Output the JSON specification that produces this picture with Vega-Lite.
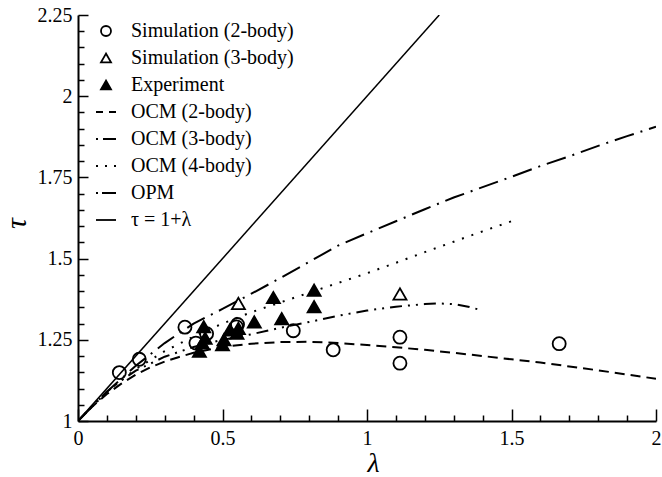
{
  "$schema": "https://vega.github.io/schema/vega-lite/v6.json",
  "width": 578,
  "height": 406,
  "autosize": {"type": "none"},
  "padding": {"left": 78, "top": 15, "right": 6, "bottom": 56},
  "background": "white",
  "config": {
    "view": {"stroke": null},
    "axis": {
      "domainColor": "black", "domainWidth": 2, "tickColor": "black", "tickWidth": 1.5,
      "labelFont": "Liberation Serif", "labelFontSize": 20, "labelColor": "black",
      "grid": false, "titleFont": "Liberation Serif", "titleFontStyle": "italic",
      "titleFontSize": 30, "titleFontWeight": "normal", "titleColor": "black",
      "labelOverlap": false, "labelFlush": false
    }
  },
  "datasets": {
    "lines": [
      {"series": "OCM (2-body)", "lam": 0, "tau": 1},
      {"series": "OCM (2-body)", "lam": 0.05, "tau": 1.045},
      {"series": "OCM (2-body)", "lam": 0.1, "tau": 1.083},
      {"series": "OCM (2-body)", "lam": 0.15, "tau": 1.115},
      {"series": "OCM (2-body)", "lam": 0.2, "tau": 1.143},
      {"series": "OCM (2-body)", "lam": 0.25, "tau": 1.165},
      {"series": "OCM (2-body)", "lam": 0.3, "tau": 1.183},
      {"series": "OCM (2-body)", "lam": 0.35, "tau": 1.197},
      {"series": "OCM (2-body)", "lam": 0.4, "tau": 1.21},
      {"series": "OCM (2-body)", "lam": 0.5, "tau": 1.228},
      {"series": "OCM (2-body)", "lam": 0.6, "tau": 1.238},
      {"series": "OCM (2-body)", "lam": 0.7, "tau": 1.243},
      {"series": "OCM (2-body)", "lam": 0.8, "tau": 1.244},
      {"series": "OCM (2-body)", "lam": 0.9, "tau": 1.24},
      {"series": "OCM (2-body)", "lam": 1.0, "tau": 1.234},
      {"series": "OCM (2-body)", "lam": 1.1, "tau": 1.227},
      {"series": "OCM (2-body)", "lam": 1.2, "tau": 1.219},
      {"series": "OCM (2-body)", "lam": 1.3, "tau": 1.21},
      {"series": "OCM (2-body)", "lam": 1.4, "tau": 1.2},
      {"series": "OCM (2-body)", "lam": 1.5, "tau": 1.19},
      {"series": "OCM (2-body)", "lam": 1.6, "tau": 1.18},
      {"series": "OCM (2-body)", "lam": 1.7, "tau": 1.168},
      {"series": "OCM (2-body)", "lam": 1.8, "tau": 1.156},
      {"series": "OCM (2-body)", "lam": 1.9, "tau": 1.143},
      {"series": "OCM (2-body)", "lam": 2.0, "tau": 1.13},
      {"series": "OCM (3-body)", "lam": 0, "tau": 1},
      {"series": "OCM (3-body)", "lam": 0.05, "tau": 1.048},
      {"series": "OCM (3-body)", "lam": 0.1, "tau": 1.09},
      {"series": "OCM (3-body)", "lam": 0.15, "tau": 1.125},
      {"series": "OCM (3-body)", "lam": 0.2, "tau": 1.155},
      {"series": "OCM (3-body)", "lam": 0.3, "tau": 1.198},
      {"series": "OCM (3-body)", "lam": 0.4, "tau": 1.228},
      {"series": "OCM (3-body)", "lam": 0.5, "tau": 1.25},
      {"series": "OCM (3-body)", "lam": 0.6, "tau": 1.267},
      {"series": "OCM (3-body)", "lam": 0.7, "tau": 1.287},
      {"series": "OCM (3-body)", "lam": 0.8, "tau": 1.305},
      {"series": "OCM (3-body)", "lam": 0.9, "tau": 1.324},
      {"series": "OCM (3-body)", "lam": 1.0, "tau": 1.34},
      {"series": "OCM (3-body)", "lam": 1.1, "tau": 1.352},
      {"series": "OCM (3-body)", "lam": 1.2, "tau": 1.36},
      {"series": "OCM (3-body)", "lam": 1.25, "tau": 1.362},
      {"series": "OCM (3-body)", "lam": 1.3, "tau": 1.36},
      {"series": "OCM (3-body)", "lam": 1.35, "tau": 1.352},
      {"series": "OCM (3-body)", "lam": 1.4, "tau": 1.34},
      {"series": "OCM (4-body)", "lam": 0, "tau": 1},
      {"series": "OCM (4-body)", "lam": 0.1, "tau": 1.09},
      {"series": "OCM (4-body)", "lam": 0.2, "tau": 1.16},
      {"series": "OCM (4-body)", "lam": 0.3, "tau": 1.215},
      {"series": "OCM (4-body)", "lam": 0.4, "tau": 1.26},
      {"series": "OCM (4-body)", "lam": 0.5, "tau": 1.3},
      {"series": "OCM (4-body)", "lam": 0.6, "tau": 1.335},
      {"series": "OCM (4-body)", "lam": 0.7, "tau": 1.365},
      {"series": "OCM (4-body)", "lam": 0.8, "tau": 1.395},
      {"series": "OCM (4-body)", "lam": 0.9, "tau": 1.425},
      {"series": "OCM (4-body)", "lam": 1.0, "tau": 1.455},
      {"series": "OCM (4-body)", "lam": 1.1, "tau": 1.487},
      {"series": "OCM (4-body)", "lam": 1.2, "tau": 1.52},
      {"series": "OCM (4-body)", "lam": 1.3, "tau": 1.552},
      {"series": "OCM (4-body)", "lam": 1.4, "tau": 1.584},
      {"series": "OCM (4-body)", "lam": 1.5, "tau": 1.615},
      {"series": "OPM", "lam": 0, "tau": 1},
      {"series": "OPM", "lam": 0.1, "tau": 1.09},
      {"series": "OPM", "lam": 0.2, "tau": 1.17},
      {"series": "OPM", "lam": 0.3, "tau": 1.24},
      {"series": "OPM", "lam": 0.4, "tau": 1.3},
      {"series": "OPM", "lam": 0.5, "tau": 1.345},
      {"series": "OPM", "lam": 0.6, "tau": 1.392},
      {"series": "OPM", "lam": 0.7, "tau": 1.44},
      {"series": "OPM", "lam": 0.8, "tau": 1.49},
      {"series": "OPM", "lam": 0.9, "tau": 1.54},
      {"series": "OPM", "lam": 1.0, "tau": 1.578},
      {"series": "OPM", "lam": 1.1, "tau": 1.615},
      {"series": "OPM", "lam": 1.2, "tau": 1.652},
      {"series": "OPM", "lam": 1.3, "tau": 1.688},
      {"series": "OPM", "lam": 1.4, "tau": 1.72},
      {"series": "OPM", "lam": 1.5, "tau": 1.752},
      {"series": "OPM", "lam": 1.6, "tau": 1.785},
      {"series": "OPM", "lam": 1.7, "tau": 1.815},
      {"series": "OPM", "lam": 1.8, "tau": 1.847},
      {"series": "OPM", "lam": 1.9, "tau": 1.877},
      {"series": "OPM", "lam": 2.0, "tau": 1.906},
      {"series": "τ = 1+λ", "lam": 0, "tau": 1},
      {"series": "τ = 1+λ", "lam": 1.25, "tau": 2.25}
    ],
    "points": [
      {"series": "Simulation (2-body)", "lam": 0.143, "tau": 1.149},
      {"series": "Simulation (2-body)", "lam": 0.212, "tau": 1.19},
      {"series": "Simulation (2-body)", "lam": 0.37, "tau": 1.289},
      {"series": "Simulation (2-body)", "lam": 0.408, "tau": 1.24},
      {"series": "Simulation (2-body)", "lam": 0.445, "tau": 1.269},
      {"series": "Simulation (2-body)", "lam": 0.548, "tau": 1.29},
      {"series": "Simulation (2-body)", "lam": 0.552, "tau": 1.297},
      {"series": "Simulation (2-body)", "lam": 0.745, "tau": 1.278},
      {"series": "Simulation (2-body)", "lam": 0.883, "tau": 1.219},
      {"series": "Simulation (2-body)", "lam": 1.114, "tau": 1.258},
      {"series": "Simulation (2-body)", "lam": 1.114, "tau": 1.178},
      {"series": "Simulation (2-body)", "lam": 1.665, "tau": 1.238},
      {"series": "Simulation (3-body)", "lam": 0.555, "tau": 1.362},
      {"series": "Simulation (3-body)", "lam": 1.114, "tau": 1.391},
      {"series": "Experiment", "lam": 0.42, "tau": 1.215},
      {"series": "Experiment", "lam": 0.43, "tau": 1.24},
      {"series": "Experiment", "lam": 0.44, "tau": 1.255},
      {"series": "Experiment", "lam": 0.435, "tau": 1.29},
      {"series": "Experiment", "lam": 0.5, "tau": 1.235},
      {"series": "Experiment", "lam": 0.505, "tau": 1.25},
      {"series": "Experiment", "lam": 0.525, "tau": 1.28},
      {"series": "Experiment", "lam": 0.55, "tau": 1.27},
      {"series": "Experiment", "lam": 0.555, "tau": 1.285},
      {"series": "Experiment", "lam": 0.61, "tau": 1.305},
      {"series": "Experiment", "lam": 0.676, "tau": 1.38},
      {"series": "Experiment", "lam": 0.705, "tau": 1.315},
      {"series": "Experiment", "lam": 0.817, "tau": 1.403},
      {"series": "Experiment", "lam": 0.817, "tau": 1.352}
    ]
  },
  "encoding": {
    "x": {
      "field": "lam", "type": "quantitative",
      "scale": {"domain": [0, 2], "nice": false, "zero": false},
      "axis": {
        "title": "λ",
        "values": [0, 0.1, 0.2, 0.3, 0.4, 0.5, 0.6, 0.7, 0.8, 0.9, 1, 1.1, 1.2, 1.3, 1.4, 1.5, 1.6, 1.7, 1.8, 1.9, 2],
        "tickSize": {"condition": {"test": "abs(datum.value*2 - round(datum.value*2)) < 0.000001", "value": -12}, "value": -6},
        "labelExpr": "abs(datum.value*2 - round(datum.value*2)) < 0.000001 ? toString(datum.value) : ''",
        "labelPadding": 19,
        "titleFontSize": 28,
        "titlePadding": -5,
        "titleX": 295
      }
    },
    "y": {
      "field": "tau", "type": "quantitative",
      "scale": {"domain": [1, 2.25], "nice": false, "zero": false},
      "axis": {
        "title": "τ",
        "values": [1, 1.05, 1.1, 1.15, 1.2, 1.25, 1.3, 1.35, 1.4, 1.45, 1.5, 1.55, 1.6, 1.65, 1.7, 1.75, 1.8, 1.85, 1.9, 1.95, 2, 2.05, 2.1, 2.15, 2.2, 2.25],
        "tickSize": {"condition": {"test": "abs(datum.value*4 - round(datum.value*4)) < 0.000001", "value": -10}, "value": -6},
        "labelExpr": "abs(datum.value*4 - round(datum.value*4)) < 0.000001 ? toString(datum.value) : ''",
        "labelPadding": 16,
        "titlePadding": 6,
        "titleY": 208
      }
    }
  },
  "layer": [
    {
      "data": {"name": "lines"},
      "transform": [{"filter": "datum.series !== 'τ = 1+λ'"}],
      "mark": {"type": "line", "color": "black", "strokeWidth": 2, "clip": true},
      "encoding": {
        "strokeDash": {
          "field": "series", "type": "nominal",
          "scale": {
            "domain": ["OCM (2-body)", "OCM (3-body)", "OCM (4-body)", "OPM"],
            "range": [[10, 6], [12, 6, 2, 6, 2, 6], [2, 8], [20, 7, 2, 7]]
          },
          "legend": null
        }
      }
    },
    {
      "data": {"name": "lines"},
      "transform": [{"filter": "datum.series === 'τ = 1+λ'"}],
      "mark": {"type": "line", "color": "black", "strokeWidth": 1.5, "clip": true},
      "encoding": {}
    },
    {
      "data": {"name": "points"},
      "mark": {"type": "point", "filled": true, "stroke": "black", "strokeWidth": 1.8, "size": 170, "opacity": 1},
      "encoding": {
        "color": {
          "field": "series", "type": "nominal",
          "scale": {
            "domain": ["Simulation (2-body)", "Simulation (3-body)", "Experiment", "OCM (2-body)", "OCM (3-body)", "OCM (4-body)", "OPM", "τ = 1+λ"],
            "range": ["transparent", "transparent", "black", "transparent", "transparent", "transparent", "transparent", "transparent"]
          },
          "legend": {
            "title": null,
            "orient": "none",
            "legendX": 18,
            "legendY": 6,
            "padding": 0,
            "symbolSize": 100,
            "symbolStrokeWidth": 1.8,
            "symbolStrokeColor": "black",
            "labelFont": "Liberation Serif",
            "labelFontSize": 20,
            "labelColor": "black",
            "labelLimit": 400,
            "labelOffset": 15,
            "rowPadding": 7,
            "encode": {
              "symbols": {
                "update": {
                  "stroke": {"value": "black"},
                  "strokeWidth": {"value": 1.8},
                  "opacity": {"value": 1}
                }
              }
            }
          }
        },
        "shape": {
          "field": "series", "type": "nominal",
          "scale": {
            "domain": ["Simulation (2-body)", "Simulation (3-body)", "Experiment", "OCM (2-body)", "OCM (3-body)", "OCM (4-body)", "OPM", "τ = 1+λ"],
            "range": ["circle", "triangle-up", "triangle-up", "M-2,0H-0.6M0.6,0H2", "M-2,0H-1.6M-0.6,0H2", "M-2,0H-1.6M-0.2,0H0.2M1.6,0H2", "M-2,0H-1.6M-0.8,0H2", "M-2,0H2"]
          },
          "legend": {
            "title": null,
            "orient": "none",
            "legendX": 18,
            "legendY": 6,
            "padding": 0,
            "symbolSize": 100,
            "symbolStrokeWidth": 1.8,
            "symbolStrokeColor": "black",
            "labelFont": "Liberation Serif",
            "labelFontSize": 20,
            "labelColor": "black",
            "labelLimit": 400,
            "labelOffset": 15,
            "rowPadding": 7
          }
        }
      }
    }
  ]
}
